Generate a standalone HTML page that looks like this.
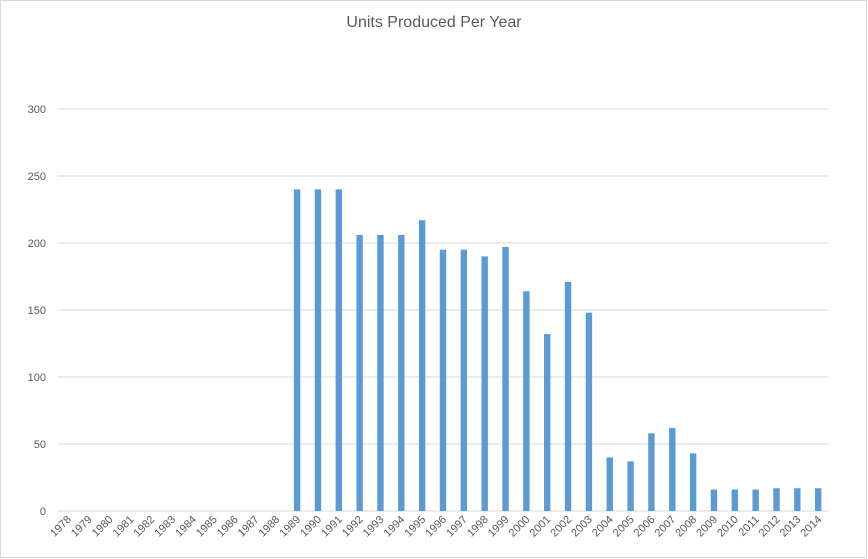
<!DOCTYPE html>
<html><head><meta charset="utf-8"><style>
html,body{margin:0;padding:0;background:#fff;}
svg{display:block;font-family:"Liberation Sans",sans-serif;}
</style></head><body>
<svg id="chart" width="868" height="559">
<rect x="0.5" y="0.5" width="866" height="557" fill="#fff" stroke="#d9d9d9"/>
<text x="434" y="27" text-anchor="middle" font-size="16" fill="#595959">Units Produced Per Year</text>
<g id="grid"></g><g id="bars"></g><g id="ylabels"></g><g id="xlabels"></g>
</svg>
<script>
const years = [];
for (let y = 1978; y <= 2014; y++) years.push(String(y));
const values = [0,0,0,0,0,0,0,0,0,0,0,240,240,240,206,206,206,217,195,195,190,197,164,132,171,148,40,37,58,62,43,16,16,16,17,17,17];
const yTicks = [0,50,100,150,200,250,300];
const NS = "http://www.w3.org/2000/svg";
const left = 57.4, right = 828.6, y0 = 511, y300 = 109;
const band = (right - left) / years.length;
const xC = i => left + band * (i + 0.5);
const yS = v => y0 - (v / 300) * (y0 - y300);
const grid = document.getElementById('grid'), bars = document.getElementById('bars'),
      yl = document.getElementById('ylabels'), xl = document.getElementById('xlabels');
yTicks.forEach(t => {
  const l = document.createElementNS(NS, 'line');
  l.setAttribute('x1', left); l.setAttribute('x2', right);
  l.setAttribute('y1', yS(t)); l.setAttribute('y2', yS(t));
  l.setAttribute('stroke', '#d9d9d9'); l.setAttribute('stroke-width', '1');
  
  
  grid.appendChild(l);
  const tx = document.createElementNS(NS, 'text');
  tx.setAttribute('x', 46); tx.setAttribute('y', yS(t) + 4);
  tx.setAttribute('text-anchor', 'end'); tx.setAttribute('font-size', '11'); tx.setAttribute('fill', '#595959');
  tx.textContent = t;
  
  
  yl.appendChild(tx);
});
years.forEach((yr, i) => {
  const v = values[i];
  if (v > 0) {
    const r = document.createElementNS(NS, 'rect');
    r.setAttribute('x', xC(i) - 3.2); r.setAttribute('width', 6.4);
    r.setAttribute('y', yS(v)); r.setAttribute('height', y0 - yS(v));
    r.setAttribute('fill', '#5b9bd5');
    
    
    bars.appendChild(r);
  }
  const tx = document.createElementNS(NS, 'text');
  const cx = xC(i) + 4, cy = 520;
  tx.setAttribute('x', cx); tx.setAttribute('y', cy);
  tx.setAttribute('text-anchor', 'end'); tx.setAttribute('font-size', '11'); tx.setAttribute('fill', '#595959');
  tx.setAttribute('transform', 'rotate(-45 ' + cx + ' ' + cy + ')');
  tx.textContent = yr;
  
  
  xl.appendChild(tx);
});
</script>
</body></html>
